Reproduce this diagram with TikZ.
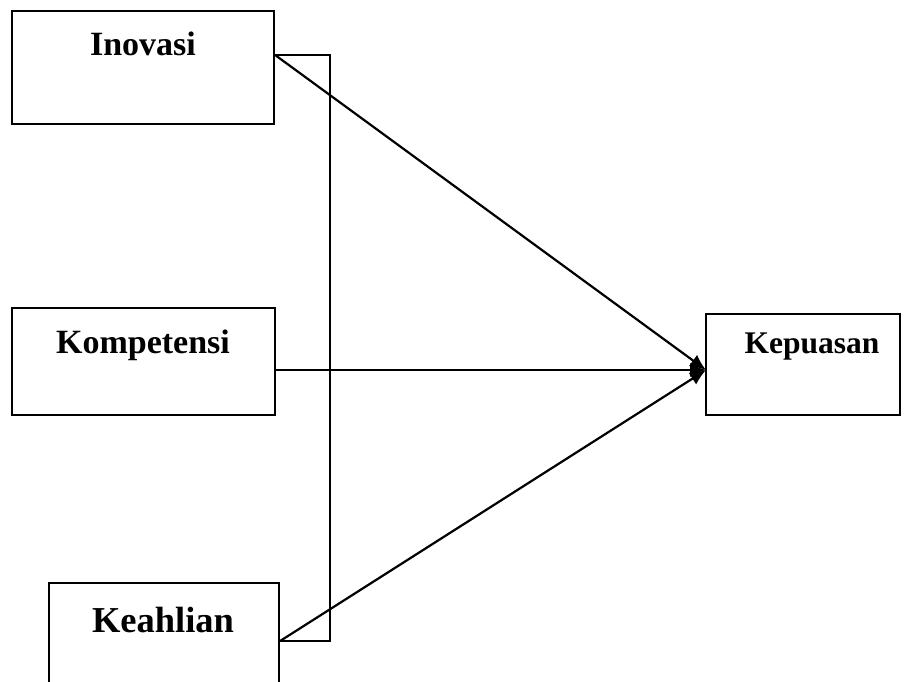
\documentclass[tikz,border=0pt]{standalone}
\usepackage{fontspec}
\setmainfont{Liberation Serif}
\usetikzlibrary{arrows.meta}

\tikzset{
  varbox/.style={draw,line width=2.2pt,rectangle,inner sep=0pt},
  varname/.style={font=\bfseries\fontsize{34}{40}\selectfont,inner sep=0pt},
  link/.style={line width=2.2pt},
  toarrow/.style={line width=2.2pt,-{Latex[length=16pt,width=14pt]}}
}

\begin{document}
\begin{tikzpicture}[x=1pt,y=-1pt]
\useasboundingbox (0,0) rectangle (907,681);
% variable boxes
\node[varbox,minimum width=262pt,minimum height=113pt] (ino) at (143,67.5) {};
\node[varname] (inoT) at (143,44) {Inovasi};
\node[varbox,minimum width=263pt,minimum height=107pt] (kom) at (143.5,361.5) {};
\node[varname] (komT) at (143,345) {Kompetensi};
\node[varbox,minimum width=230pt,minimum height=130pt] (kea) at (164,648) {};
\node[varname,font=\bfseries\fontsize{36.5}{42}\selectfont] (keaT) at (163,620) {Keahlian};
\node[varbox,minimum width=194pt,minimum height=101pt] (kep) at (803,364.5) {};
\node[varname,font=\bfseries\fontsize{31.5}{38}\selectfont] (kepT) at (812,347) {Kepuasan};
% ends of the connectors
\coordinate (tip) at (706,370);
\coordinate (inoR) at (ino.east |- 0,55);
\coordinate (komR) at (kom.east |- 0,370);
\coordinate (keaR) at (kea.east |- 0,641);
\coordinate (brTop) at (330,55);
\coordinate (brBot) at (330,641);
% bracket
\draw[link] (inoR) -- (brTop) -- (brBot) -- (keaR);
% arrows to Kepuasan
\draw[toarrow] (inoR) -- (tip);
\draw[toarrow] (komR) -- (tip);
\draw[toarrow] (keaR) -- (tip);
\end{tikzpicture}
\end{document}
